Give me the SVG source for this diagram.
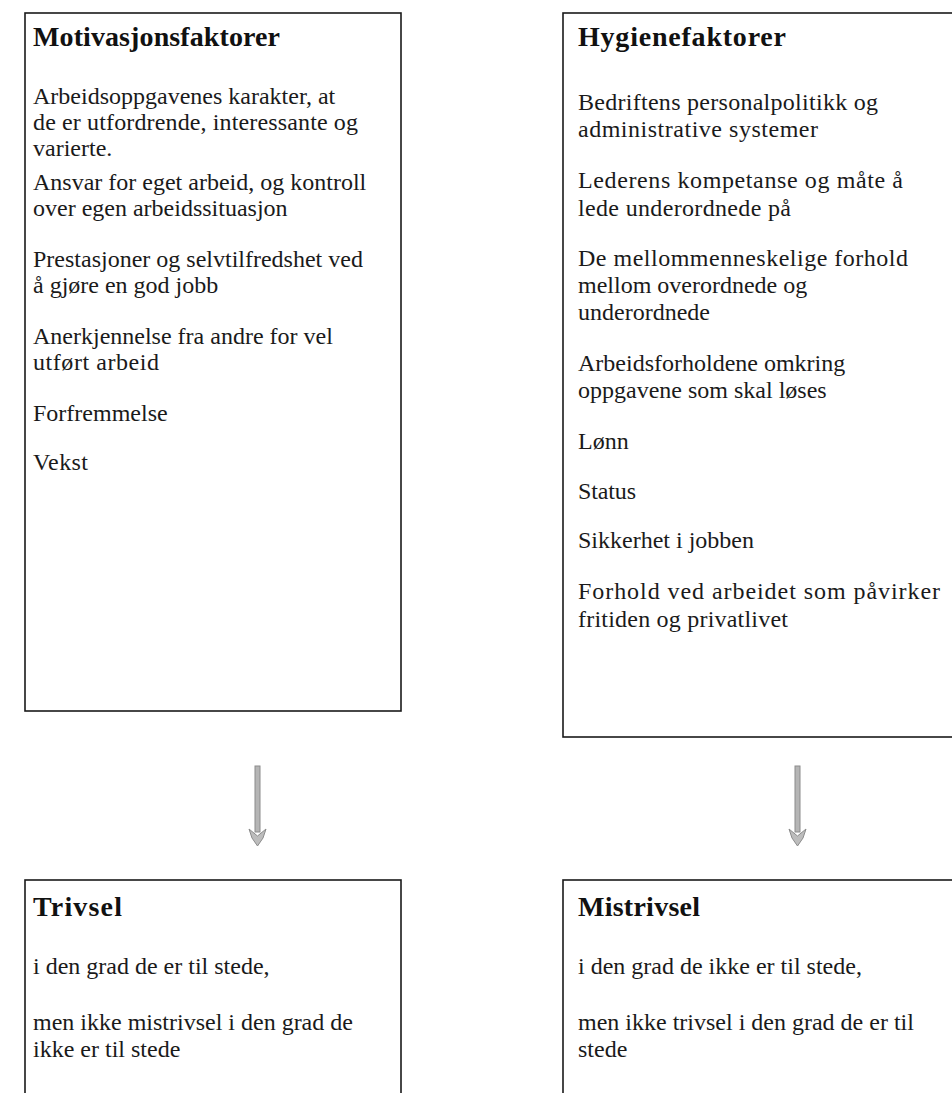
<svg xmlns="http://www.w3.org/2000/svg" width="952" height="1093" viewBox="0 0 952 1093">
<defs>
<style>
.box{fill:#fff;stroke:#1a1a1a;stroke-width:1.6}
.t{font-family:"Liberation Serif","Times New Roman",serif;font-size:24px;fill:#1a1a1a}
.h{font-family:"Liberation Serif","Times New Roman",serif;font-size:28px;font-weight:bold;fill:#111}
.shaft{fill:#b5b5b5;stroke:#8c8c8c;stroke-width:1}
.head{fill:#bdbdbd;stroke:#8c8c8c;stroke-width:1}
</style>
</defs>
<rect width="952" height="1093" fill="#fff"/>
<g id="motivasjon">
<rect class="box" x="25" y="13" width="376" height="698"/>
<text class="h" x="33" y="46" textLength="247" lengthAdjust="spacing">Motivasjonsfaktorer</text>
<text class="t" x="33" y="104">Arbeidsoppgavenes karakter, at</text>
<text class="t" x="33" y="130" textLength="325" lengthAdjust="spacing">de er utfordrende, interessante og</text>
<text class="t" x="33" y="156">varierte.</text>
<text class="t" x="33" y="190">Ansvar for eget arbeid, og kontroll</text>
<text class="t" x="33" y="216">over egen arbeidssituasjon</text>
<text class="t" x="33" y="267">Prestasjoner og selvtilfredshet ved</text>
<text class="t" x="33" y="293">å gjøre en god jobb</text>
<text class="t" x="33" y="344">Anerkjennelse fra andre for vel</text>
<text class="t" x="33" y="370" textLength="126" lengthAdjust="spacing">utført arbeid</text>
<text class="t" x="33" y="421">Forfremmelse</text>
<text class="t" x="33" y="470" textLength="55" lengthAdjust="spacing">Vekst</text>
</g>
<g id="hygiene">
<rect class="box" x="563" y="13" width="400" height="724"/>
<text class="h" x="578" y="46" textLength="208" lengthAdjust="spacing">Hygienefaktorer</text>
<text class="t" x="578" y="110" textLength="300" lengthAdjust="spacing">Bedriftens personalpolitikk og</text>
<text class="t" x="578" y="137" textLength="240" lengthAdjust="spacing">administrative systemer</text>
<text class="t" x="578" y="188" textLength="325" lengthAdjust="spacing">Lederens kompetanse og måte å</text>
<text class="t" x="578" y="216" textLength="213" lengthAdjust="spacing">lede underordnede på</text>
<text class="t" x="578" y="266" textLength="330" lengthAdjust="spacing">De mellommenneskelige forhold</text>
<text class="t" x="578" y="293">mellom overordnede og</text>
<text class="t" x="578" y="320">underordnede</text>
<text class="t" x="578" y="371">Arbeidsforholdene omkring</text>
<text class="t" x="578" y="398">oppgavene som skal løses</text>
<text class="t" x="578" y="449">Lønn</text>
<text class="t" x="578" y="499" textLength="58" lengthAdjust="spacing">Status</text>
<text class="t" x="578" y="548">Sikkerhet i jobben</text>
<text class="t" x="578" y="599" textLength="362" lengthAdjust="spacing">Forhold ved arbeidet som påvirker</text>
<text class="t" x="578" y="627" textLength="210" lengthAdjust="spacing">fritiden og privatlivet</text>
</g>
<g id="trivsel">
<rect class="box" x="25" y="880" width="376" height="230"/>
<text class="h" x="33" y="916" textLength="89" lengthAdjust="spacing">Trivsel</text>
<text class="t" x="33" y="974">i den grad de er til stede,</text>
<text class="t" x="33" y="1030">men ikke mistrivsel i den grad de</text>
<text class="t" x="33" y="1057">ikke er til stede</text>
</g>
<g id="mistrivsel">
<rect class="box" x="563" y="880" width="400" height="230"/>
<text class="h" x="578" y="916" textLength="122" lengthAdjust="spacing">Mistrivsel</text>
<text class="t" x="578" y="974">i den grad de ikke er til stede,</text>
<text class="t" x="578" y="1030">men ikke trivsel i den grad de er til</text>
<text class="t" x="578" y="1057">stede</text>
</g>
<g id="connectors">
<rect class="shaft" x="255" y="766" width="5" height="66"/>
<path class="head" d="M249,829 L257.5,836 L266,829 L263,838 L257.5,846 L252,838 Z"/>
<rect class="shaft" x="795" y="766" width="5" height="66"/>
<path class="head" d="M789,829 L797.5,836 L806,829 L803,838 L797.5,846 L792,838 Z"/>
</g>
</svg>
